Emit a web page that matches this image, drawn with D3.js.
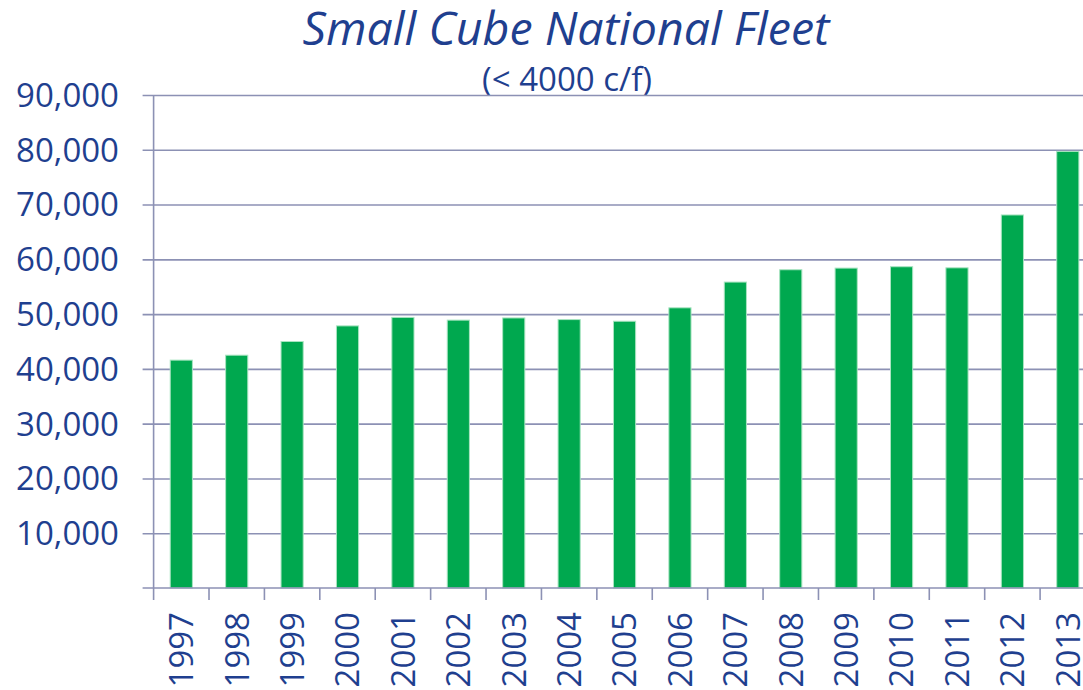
<!DOCTYPE html>
<html>
<head>
<meta charset="utf-8">
<script src="https://cdn.jsdelivr.net/npm/d3@7/dist/d3.min.js"></script>
<style>
  html, body { margin: 0; padding: 0; background: #ffffff; }
  svg { display: block; overflow: hidden; }
  text { font-family: "Open Sans", "Noto Sans", sans-serif; fill: #1f3f8f; }
</style>
</head>
<body>
<svg id="chart" width="1083" height="690"></svg>
<script>
// Fleet size by year (units)
const years = ["1997","1998","1999","2000","2001","2002","2003","2004","2005",
               "2006","2007","2008","2009","2010","2011","2012","2013"];
const fleet = [41600, 42500, 45000, 47850, 49400, 48900, 49300, 49000, 48700,
               51150, 55850, 58100, 58400, 58650, 58450, 68100, 79700];
const yTicks = [10000, 20000, 30000, 40000, 50000, 60000, 70000, 80000, 90000];
const titleText = "Small Cube National Fleet";
const subtitleText = "(< 4000 c/f)";

const svg = d3.select("#chart");
const W = 1083, H = 690;
const plotLeft = 153.6, plotRight = 1095.5, plotTop = 95, plotBottom = 588;

const x = d3.scaleBand().domain(years).range([plotLeft, plotRight]).paddingInner(0.6).paddingOuter(0.3);
const y = d3.scaleLinear().domain([0, 90000]).range([plotBottom, plotTop]);

const gridColor = "#8c91b4";

// title and subtitle (drawn first so the top gridline sits over the subtitle)
svg.append("text")
  .attr("x", 566).attr("y", 45)
  .attr("text-anchor", "middle")
  .attr("font-size", 46.5)
  .attr("font-style", "italic")
  .text(titleText);

svg.append("text")
  .attr("x", 567).attr("y", 91)
  .attr("text-anchor", "middle")
  .attr("font-size", 33)
  .text(subtitleText);

// horizontal gridlines with short ticks left of the axis
svg.append("g")
  .attr("transform", `translate(${plotLeft},0)`)
  .call(d3.axisLeft(y).tickValues(yTicks).tickSize(-(W - plotLeft + 20)).tickSizeOuter(0).tickFormat(""))
  .call(g => g.select(".domain").remove())
  .call(g => g.selectAll(".tick line").attr("stroke", gridColor).attr("stroke-width", 1.6)
      .attr("x1", -11));

// y tick labels
svg.append("g").selectAll("text")
  .data(yTicks)
  .join("text")
  .attr("x", 119)
  .attr("y", d => y(d))
  .attr("dy", "0.36em")
  .attr("text-anchor", "end")
  .attr("font-size", 33)
  .text(d3.format(","));

// bars
svg.append("g").selectAll("rect")
  .data(years.map((yr, i) => ({ yr, v: fleet[i] })))
  .join("rect")
  .attr("x", d => x(d.yr))
  .attr("width", x.bandwidth())
  .attr("y", d => y(d.v))
  .attr("height", d => y(0) - y(d.v))
  .attr("fill", "#00a84f")
  .attr("stroke", "#a9e4c1")
  .attr("stroke-width", 1);

// y axis line
svg.append("line")
  .attr("x1", plotLeft).attr("x2", plotLeft)
  .attr("y1", plotTop).attr("y2", plotBottom + 12)
  .attr("stroke", gridColor).attr("stroke-width", 1.6);

// x baseline and category boundary ticks
svg.append("line")
  .attr("x1", plotLeft - 11).attr("x2", W + 20)
  .attr("y1", plotBottom).attr("y2", plotBottom)
  .attr("stroke", gridColor).attr("stroke-width", 1.6);

svg.append("g").selectAll("line")
  .data(years.slice(1))
  .join("line")
  .attr("x1", d => x(d) - x.step() * x.paddingInner() / 2)
  .attr("x2", d => x(d) - x.step() * x.paddingInner() / 2)
  .attr("y1", plotBottom).attr("y2", plotBottom + 12)
  .attr("stroke", gridColor).attr("stroke-width", 1.6);

// year labels, rotated
svg.append("g").selectAll("text")
  .data(years)
  .join("text")
  .attr("transform", d => `translate(${x(d) + x.bandwidth() / 2},612) rotate(-90)`)
  .attr("dy", "0.36em")
  .attr("text-anchor", "end")
  .attr("font-size", 33)
  .text(d => d);
</script>
</body>
</html>
